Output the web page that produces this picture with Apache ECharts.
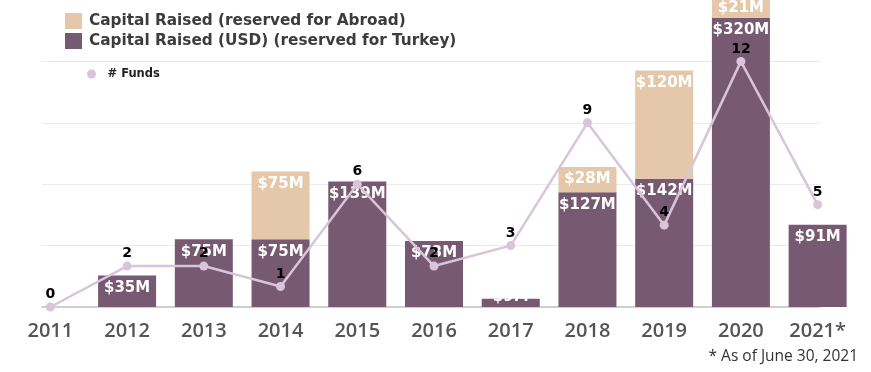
<!DOCTYPE html>
<html>
<head>
<meta charset="utf-8">
<script src="https://cdn.jsdelivr.net/npm/echarts@6/dist/echarts.min.js"></script>
<style>
  html, body { margin: 0; padding: 0; background: #ffffff; }
  #chart { width: 871px; height: 372px; }
</style>
</head>
<body>
<div id="chart"></div>
<script>
// Annual capital raised (USD millions) and number of funds
const years = ['2011', '2012', '2013', '2014', '2015', '2016', '2017', '2018', '2019', '2020', '2021*'];
const raisedTurkey = [0, 35, 75, 75, 139, 73, 9, 127, 142, 320, 91];
const raisedAbroad = [0, 0, 0, 75, 0, 0, 0, 28, 120, 21, 0];
const fundCounts = [0, 2, 2, 1, 6, 2, 3, 9, 4, 12, 5];
const fundTicks = [0, 3, 6, 9, 12, 15];

const PURPLE = '#775a71';
const BEIGE = '#e4c8a9';
const LILAC = '#d9c4d9';
const GRID = '#ebebeb';

const chart = echarts.init(document.getElementById('chart'), null, { renderer: 'canvas' });

const barLabel = {
  show: true,
  position: 'insideTop',
  distance: 5,
  color: '#ffffff',
  fontFamily: 'DejaVu Sans',
  fontWeight: 'bold',
  fontSize: 15,
  formatter: p => '$' + p.value + 'M'
};

function barItems(values, special) {
  return values.map((v, i) => {
    if (!v) return { value: '-' };
    const item = { value: v };
    if (special[i]) item.label = special[i];
    return item;
  });
}

// one colour per split line; the topmost line is left invisible
const gridColors = fundTicks.map((t, i) => (i === fundTicks.length - 1 ? 'rgba(0,0,0,0)' : GRID));

const option = {
  animation: false,
  grid: [
    { left: 12, right: 15, top: 0, bottom: 65 },
    { left: 42, right: 51, top: 0, bottom: 65 }
  ],
  legend: [
    {
      data: ['Capital Raised (reserved for Abroad)', 'Capital Raised (USD) (reserved for Turkey)'],
      orient: 'vertical',
      left: 60,
      top: 8,
      itemWidth: 17,
      itemHeight: 16,
      itemGap: 4,
      icon: 'rect',
      textStyle: { fontFamily: 'DejaVu Sans', fontWeight: 'bold', fontSize: 15.3, color: '#3c3c3c', padding: [0, 0, 0, 2] },
      selectedMode: false
    },
    {
      data: ['# Funds'],
      left: 82,
      top: 63,
      itemWidth: 12,
      itemHeight: 9,
      icon: 'circle',
      textStyle: { fontFamily: 'DejaVu Sans', fontWeight: 'bold', fontSize: 11.5, color: '#222222', padding: [0, 0, 0, 5] },
      selectedMode: false
    }
  ],
  xAxis: [
    {
      type: 'category',
      gridIndex: 0,
      data: years,
      axisLine: { show: false },
      axisTick: { show: false },
      axisLabel: {
        fontFamily: 'Open Sans',
        fontWeight: 600,
        fontSize: 20,
        color: '#555555',
        margin: 14
      }
    },
    {
      type: 'value',
      gridIndex: 1,
      min: 0,
      max: 1,
      axisLine: { show: true, onZero: false, lineStyle: { color: '#cfcfcf', width: 2 } },
      axisTick: { show: false },
      axisLabel: { show: false },
      splitLine: { show: false }
    }
  ],
  yAxis: [
    {
      type: 'value',
      gridIndex: 0,
      min: 0,
      max: 340,
      show: false,
      splitLine: { show: false }
    },
    {
      type: 'value',
      gridIndex: 0,
      min: 0,
      max: 15,
      show: false,
      splitLine: { show: false }
    },
    {
      type: 'value',
      gridIndex: 1,
      min: fundTicks[0],
      max: fundTicks[fundTicks.length - 1],
      interval: fundTicks[1] - fundTicks[0],
      axisLine: { show: false },
      axisTick: { show: false },
      axisLabel: { show: false },
      splitLine: { show: true, lineStyle: { color: gridColors, width: 1 } }
    }
  ],
  series: [
    {
      name: 'Capital Raised (USD) (reserved for Turkey)',
      type: 'bar',
      stack: 'raised',
      xAxisIndex: 0,
      yAxisIndex: 0,
      barWidth: 58,
      itemStyle: { color: PURPLE },
      label: barLabel,
      data: barItems(raisedTurkey, { 6: { position: 'inside', offset: [0, -6] } })
    },
    {
      name: 'Capital Raised (reserved for Abroad)',
      type: 'bar',
      stack: 'raised',
      xAxisIndex: 0,
      yAxisIndex: 0,
      barWidth: 58,
      itemStyle: { color: BEIGE },
      label: barLabel,
      data: barItems(raisedAbroad, { 9: { position: 'inside', offset: [0, -1] } })
    },
    {
      name: '# Funds',
      type: 'line',
      xAxisIndex: 0,
      yAxisIndex: 1,
      z: 5,
      symbol: 'circle',
      symbolSize: 9,
      lineStyle: { color: LILAC, width: 2.5 },
      itemStyle: { color: LILAC },
      label: {
        show: true,
        position: 'top',
        distance: 1,
        color: '#000000',
        fontFamily: 'DejaVu Sans',
        fontWeight: 'bold',
        fontSize: 14
      },
      data: fundCounts
    }
  ],
  graphic: [
    {
      type: 'text',
      right: 13,
      top: 349,
      style: {
        text: '* As of June 30, 2021',
        fontFamily: 'Open Sans',
        fontSize: 15.5,
        fill: '#333333'
      }
    }
  ]
};

chart.setOption(option);
</script>
</body>
</html>
